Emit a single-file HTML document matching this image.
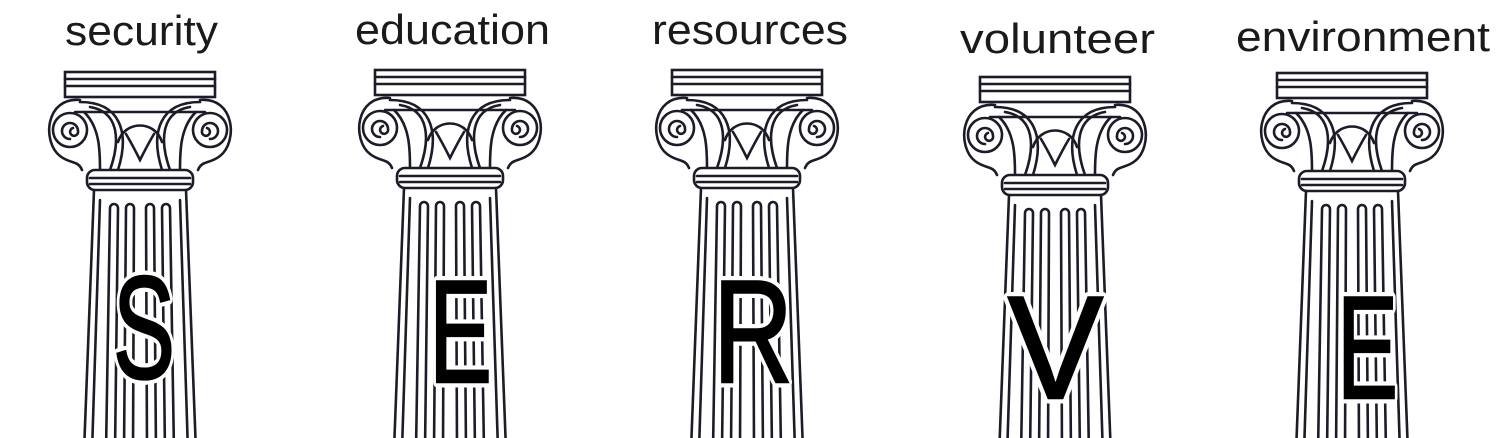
<!DOCTYPE html>
<html><head><style>
html,body{margin:0;padding:0;background:#fff;}
svg{display:block}
</style></head><body>
<svg width="1500" height="438" viewBox="0 0 1500 438" xmlns="http://www.w3.org/2000/svg">
<defs>
<g id="col" fill="none" stroke="#1c1c28" stroke-width="2.6" stroke-linecap="round">
  <rect x="-75" y="0" width="150" height="25" fill="#fff"/>
  <line x1="-75" y1="7" x2="75" y2="7"/>
  <line x1="-75" y1="14" x2="75" y2="14"/>
  <line x1="-65" y1="40" x2="65" y2="40"/>
  <path d="M-60 28 C-95 25 -98 70 -80 84 C-70 92 -62 88 -58 98"/>
  <path d="M60 28 C95 25 98 70 80 84 C70 92 62 88 58 98"/>
  <path d="M-60 30 C-20 30 -10 60 -22 98"/>
  <path d="M60 30 C20 30 10 60 22 98"/>
  <path d="M-50 35 C-20 40 -20 70 -30 98"/>
  <path d="M50 35 C20 40 20 70 30 98"/>
  <path d="M-56 40 C-40 55 -40 80 -40 98"/>
  <path d="M56 40 C40 55 40 80 40 98"/>
  <circle cx="-70" cy="58" r="17"/>
  <circle cx="70" cy="58" r="17"/>
  <path d="M-70 67 a8 8 0 1 1 8 -8 a4 4 0 1 1 -5 -3"/>
  <path d="M70 67 a8 8 0 1 0 -8 -8 a4 4 0 1 0 5 -3"/>
  <path d="M-22 70 C-15 48 15 48 22 70"/>
  <path d="M-14 62 C-8 72 -3 82 0 88 C3 82 8 72 14 62"/>
  <rect x="-53" y="98" width="106" height="20" rx="8" fill="#fff"/>
  <line x1="-50" y1="106" x2="50" y2="106"/>
  <line x1="-50" y1="112" x2="50" y2="112"/>
  <line x1="-46" y1="118" x2="-56" y2="380"/>
  <line x1="46" y1="118" x2="56" y2="380"/>
  <line x1="-40" y1="128" x2="-48" y2="380"/>
  <line x1="40" y1="128" x2="48" y2="380"/>
  <path d="M-34 380 L-30 136 a4 4 0 0 1 8 0 L-25 380"/>
  <path d="M-16 380 L-14 136 a4 4 0 0 1 8 0 L-7 380"/>
  <path d="M7 380 L6 136 a4 4 0 0 1 8 0 L16 380"/>
  <path d="M25 380 L22 136 a4 4 0 0 1 8 0 L34 380"/>
</g>
</defs>
<g font-family="'Liberation Sans', sans-serif" font-size="42" fill="#1a1a1a">
  <text x="65" y="45" textLength="153" lengthAdjust="spacingAndGlyphs">security</text>
  <text x="355" y="44" textLength="195" lengthAdjust="spacingAndGlyphs">education</text>
  <text x="652" y="44" textLength="196" lengthAdjust="spacingAndGlyphs">resources</text>
  <text x="960" y="53" textLength="195" lengthAdjust="spacingAndGlyphs">volunteer</text>
  <text x="1236" y="51" textLength="254" lengthAdjust="spacingAndGlyphs">environment</text>
</g>
<use href="#col" transform="translate(140,72)"/>
<use href="#col" transform="translate(450,70)"/>
<use href="#col" transform="translate(747,70)"/>
<use href="#col" transform="translate(1055,77)"/>
<use href="#col" transform="translate(1352,73)"/>
<g font-family="'Liberation Sans', sans-serif" font-size="146" fill="#000" stroke="#fff" stroke-width="11" paint-order="stroke" stroke-linejoin="round">
  <text x="113" y="378" textLength="62" lengthAdjust="spacingAndGlyphs">S</text>
  <text x="429" y="382" textLength="63" lengthAdjust="spacingAndGlyphs">E</text>
  <text x="713" y="382" textLength="80" lengthAdjust="spacingAndGlyphs">R</text>
  <text x="1008" y="398" textLength="95" lengthAdjust="spacingAndGlyphs">V</text>
  <text x="1337" y="398" textLength="61" lengthAdjust="spacingAndGlyphs">E</text>
</g>
<g font-family="'Liberation Sans', sans-serif" font-size="146" fill="#000" stroke="#000" stroke-width="2.5" stroke-linejoin="miter">
  <text x="113" y="378" textLength="62" lengthAdjust="spacingAndGlyphs">S</text>
  <text x="429" y="382" textLength="63" lengthAdjust="spacingAndGlyphs">E</text>
  <text x="713" y="382" textLength="80" lengthAdjust="spacingAndGlyphs">R</text>
  <text x="1008" y="398" textLength="95" lengthAdjust="spacingAndGlyphs">V</text>
  <text x="1337" y="398" textLength="61" lengthAdjust="spacingAndGlyphs">E</text>
</g>
</svg>
</body></html>
